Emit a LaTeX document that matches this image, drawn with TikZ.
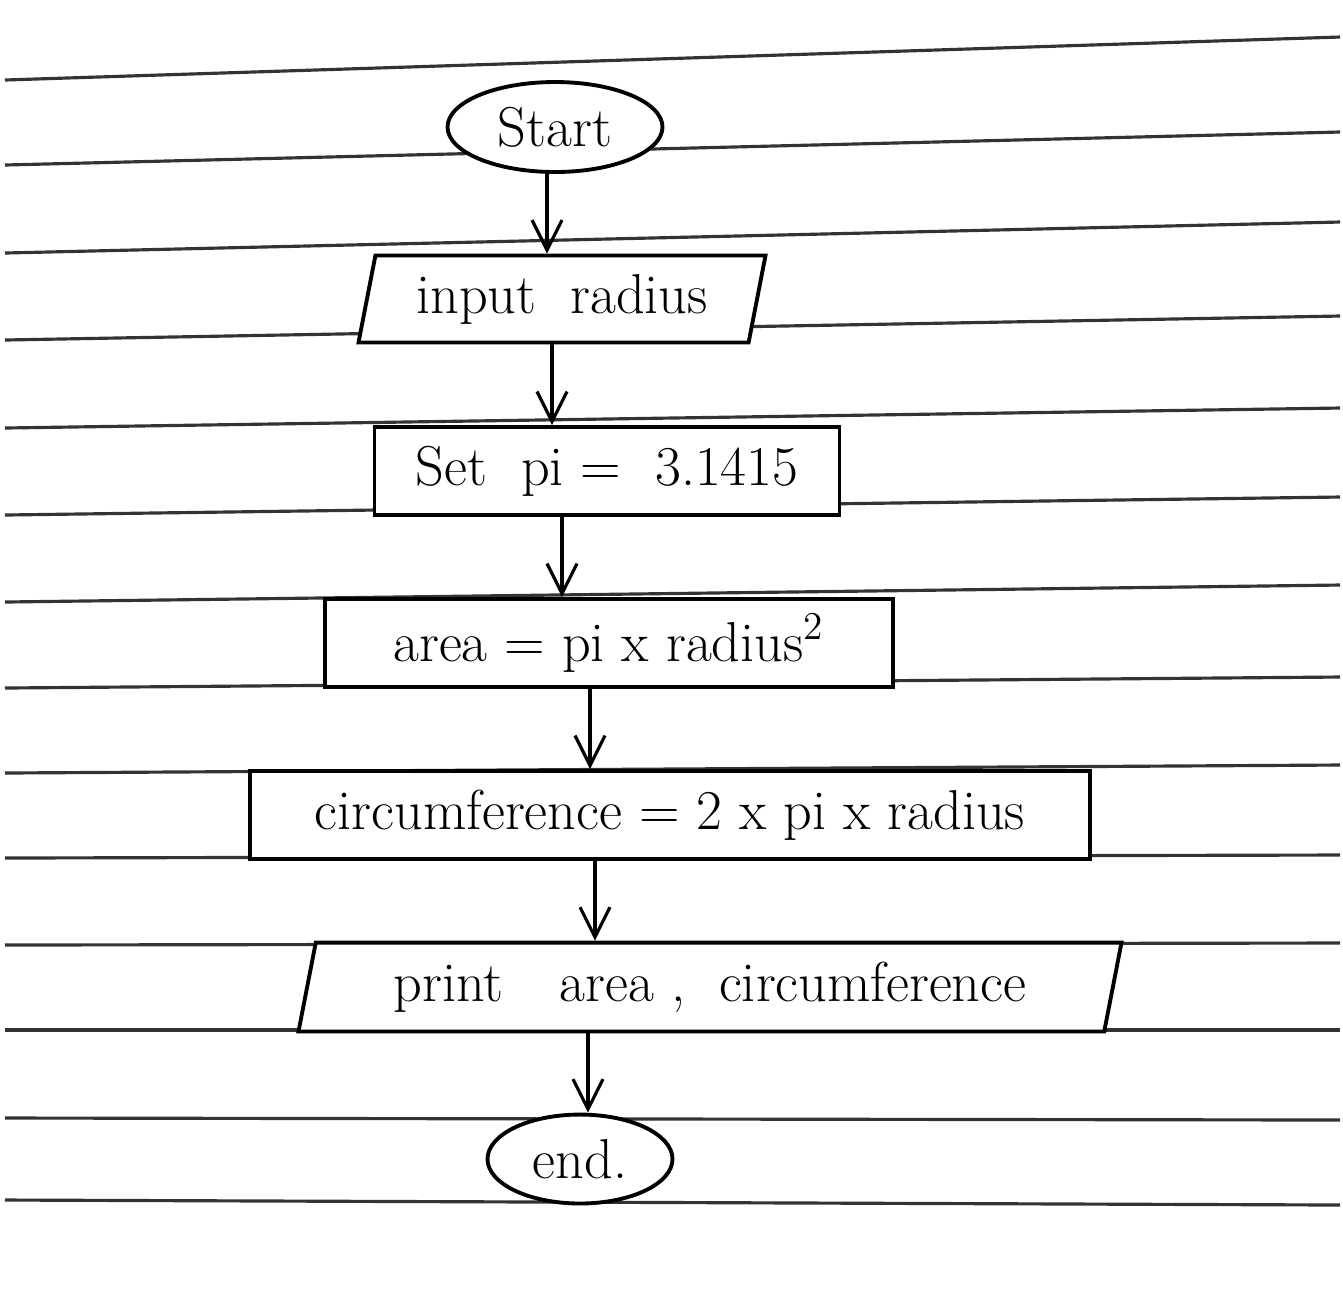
\documentclass[tikz,border=0pt]{standalone}
\usepackage{tikz}
\usetikzlibrary{arrows.meta, positioning, shapes.geometric}

\begin{document}
\begin{tikzpicture}
	\tikzstyle{terminal} = [ellipse, minimum width = 2cm, minimum height = 0.86cm, text centered, draw=black, line width=1.1pt, fill=white]
	\tikzstyle{io} = [trapezium, trapezium left angle=79, trapezium right angle=101, minimum height = 0.87cm, text centered, draw=black, line width=1.1pt, fill=white]
	\tikzstyle{box} = [rectangle, minimum height = 0.88cm, text centered, draw=black, line width=1.1pt, fill=white]
	\tikzstyle{arrow}  = [line width=0.9pt, -{Straight Barb[length=3mm, width=3mm]}]
	\tikzstyle{rule} = [line width=0.9pt, black!80]

	\useasboundingbox[fill=white] (0,0) rectangle (13.43,-12.89);
	% ruled paper
	\foreach \l/\r in {0.80/0.37, 1.65/1.32, 2.53/2.22, 3.40/3.16, 4.28/4.08, 5.15/4.97, 6.02/5.85, 6.88/6.77, 7.73/7.65, 8.58/8.55, 9.45/9.43, 10.30/10.30, 11.18/11.20, 12.00/12.05}
		\draw[rule] (0.05,-\l) -- (13.40,-\r);

	\tikzset{every node/.style={font=\fontsize{16}{19}\selectfont}, node distance=1.72cm}

	\node[terminal, minimum width=2.15cm] at (5.55,-1.27) (start){Start};

	\node[io, below of=start, xshift=0.07cm, minimum width=4.05cm](input){input\ \ radius};
	\coordinate[below of=start, node distance=0.43cm, xshift=-0.08cm] (a1);
	\draw[arrow] (a1) to (a1 |- input.north);

	\node[box, below of=input, xshift=0.45cm, minimum width=4.65cm](setpi){Set\ \ pi = \ 3.1415};
	\coordinate[below of=input, node distance=0.44cm, xshift=-0.10cm] (a2);
	\draw[arrow] (a2) to (a2 |- setpi.north);

	\node[box, below of=setpi, xshift=0.02cm, minimum width=5.68cm](area){area = pi x radius\textsuperscript{2}};
	\coordinate[below of=setpi, node distance=0.44cm, xshift=-0.45cm] (a3);
	\draw[arrow] (a3) to (a3 |- area.north);

	\node[box, below of=area, xshift=0.61cm, minimum width=8.4cm](circ){circumference = 2 x pi x radius};
	\coordinate[below of=area, node distance=0.45cm, xshift=-0.19cm] (a4);
	\draw[arrow] (a4) to (a4 |- circ.north);

	\node[io, below of=circ, xshift=0.40cm, minimum width=8.25cm](print){print\quad area\ , \ circumference};
	\coordinate[below of=circ, node distance=0.44cm, xshift=-0.75cm] (a5);
	\draw[arrow] (a5) to (a5 |- print.north);

	\node[terminal, below of=print, xshift=-1.30cm, minimum width=1.85cm](end){end.};
	\coordinate[below of=print, node distance=0.43cm, xshift=-1.22cm] (a6);
	\draw[arrow] (a6) to (a6 |- end.north);

\end{tikzpicture}
\end{document}
